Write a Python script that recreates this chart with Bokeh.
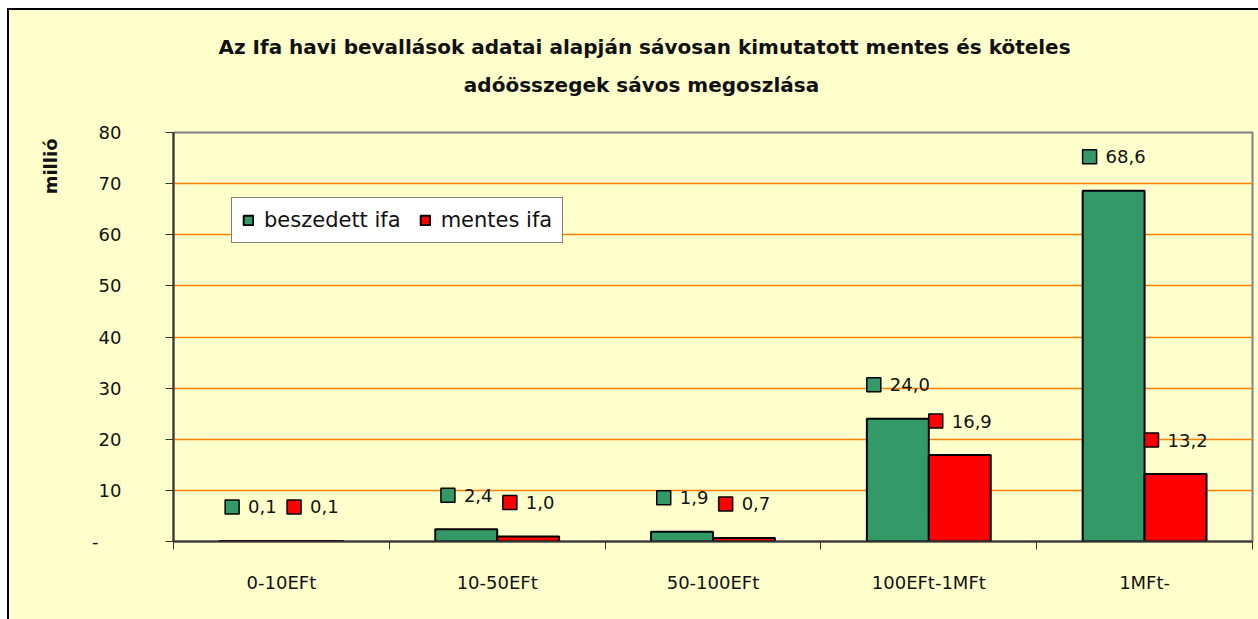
from bokeh.plotting import figure
from bokeh.layouts import column
from bokeh.models import (FixedTicker, Legend, LegendItem, Title, ColumnDataSource, Range1d)
from bokeh.core.properties import value
from bokeh.embed import file_html
from bokeh.resources import INLINE

categories = ["0-10EFt", "10-50EFt", "50-100EFt", "100EFt-1MFt", "1MFt-"]
beszedett = [0.1, 2.4, 1.9, 24.0, 68.6]
mentes = [0.1, 1.0, 0.7, 16.9, 13.2]
y_ticks = [0, 10, 20, 30, 40, 50, 60, 70, 80]
series_names = ["beszedett ifa", "mentes ifa"]
title_lines = ["Az Ifa havi bevallások adatai alapján sávosan kimutatott mentes és köteles",
               "adóösszegek sávos megoszlása"]
y_label = "millió"

FONT = "DejaVu Sans"
GREEN = "#339966"
RED = "#FF0000"
BG = "#FFFFCC"

W, H_TOTAL = 1249, 609
HT = 100                      # height of the title strip
H = H_TOTAL - HT
ML, MR, MT, MB = 164, 6, 122 - HT, 78
FW, FH = W - ML - MR, H - MT - MB
n = len(categories)
ymax = 80
px_x = FW / n
px_y = FH / ymax
bw = 0.287

# ---- title strip: its frame is aligned with the chart frame by the column layout,
# so its x range is expressed in canvas pixels of the chart frame ----
tp = figure(width=W, height=HT, output_backend="svg", toolbar_location=None,
            x_range=Range1d(ML, W - MR), y_range=Range1d(HT, 0),
            x_axis_type=None, y_axis_type=None,
            min_border=0, min_border_left=0, min_border_right=0, min_border_top=0, min_border_bottom=0,
            background_fill_color=BG, border_fill_color=BG)
tp.outline_line_color = None
tp.grid.visible = False
title_src = ColumnDataSource(dict(x=[635, 632], y=[36, 74], t=title_lines))
tp.text(x="x", y="y", text="t", source=title_src, text_font=value(FONT), text_font_size="20px",
        text_font_style="bold", text_color="#111111", text_align="center", text_baseline="middle")

# ---- main chart ----
p = figure(width=W, height=H, output_backend="svg", toolbar_location=None,
           x_range=Range1d(0, n), y_range=Range1d(0, ymax),
           min_border_left=ML, min_border_right=MR, min_border_top=MT, min_border_bottom=MB,
           background_fill_color=BG, border_fill_color=BG)
p.outline_line_color = "#808080"
p.outline_line_width = 2

centers = [i + 0.5 for i in range(n)]
gx = [c - bw / 2 for c in centers]
rx = [c + bw / 2 for c in centers]

g = p.vbar(x=gx, top=beszedett, width=bw, bottom=0, fill_color=GREEN, line_color="black", line_width=2)
r = p.vbar(x=rx, top=mentes, width=bw, bottom=0, fill_color=RED, line_color="black", line_width=2)

def fmt(v):
    return f"{v:.1f}".replace(".", ",")

LBL = 18
for xs, vals, col in [(gx, beszedett, GREEN), (rx, mentes, RED)]:
    texts = [fmt(v) for v in vals]
    widths = [sum(0.318 * LBL if ch == "," else 0.636 * LBL for ch in t) for t in texts]
    starts = [-(22 + w) / 2 for w in widths]
    sq_x = [x + (s + 7) / px_x for x, s in zip(xs, starts)]
    sq_y = [v + 34 / px_y for v in vals]
    p.scatter(x=sq_x, y=sq_y, marker="square", size=14, fill_color=col, line_color="black", line_width=1.5)
    src = ColumnDataSource(dict(x=xs, y=vals, t=texts, off=[s + 23 for s in starts]))
    p.text(x="x", y="y", text="t", x_offset="off", y_offset=-34, source=src,
           text_font=value(FONT), text_font_size=f"{LBL}px", text_color="#111111",
           text_align="left", text_baseline="middle")

p.xgrid.grid_line_color = None
p.ygrid.grid_line_color = "#FF8000"
p.ygrid.grid_line_width = 1.5
p.ygrid.ticker = FixedTicker(ticks=y_ticks[1:-1])

xa = p.xaxis[0]
xa.ticker = FixedTicker(ticks=centers, minor_ticks=list(range(n + 1)))
xa.major_label_overrides = {c: lab for c, lab in zip(centers, categories)}
xa.major_tick_line_color = None
xa.major_tick_out = 0
xa.minor_tick_out = 8
xa.minor_tick_in = 0
xa.minor_tick_line_color = "#333333"
xa.axis_line_color = "#333333"
xa.axis_line_width = 2
xa.major_label_standoff = 22
xa.major_label_text_font = FONT
xa.major_label_text_font_size = "18px"
xa.major_label_text_color = "#111111"

ya = p.yaxis[0]
ya.ticker = FixedTicker(ticks=y_ticks)
ya.major_label_overrides = {0: "-\u00a0\u00a0\u00a0\u00a0"}
ya.major_tick_out = 8
ya.major_tick_in = 0
ya.minor_tick_line_color = None
ya.major_tick_line_color = "#333333"
ya.axis_line_color = "#333333"
ya.axis_line_width = 2
ya.major_label_standoff = 44
ya.major_label_text_font = FONT
ya.major_label_text_font_size = "18px"
ya.major_label_text_color = "#111111"

legend = Legend(items=[LegendItem(label=series_names[0], renderers=[g]),
                       LegendItem(label=series_names[1], renderers=[r])],
                orientation="horizontal", location=(58, 298))
legend.background_fill_color = "white"
legend.background_fill_alpha = 1
legend.border_line_color = "black"
legend.border_line_width = 1
legend.label_text_font = FONT
legend.label_text_font_size = "21px"
legend.label_text_color = "#111111"
legend.glyph_width = 12
legend.glyph_height = 12
legend.spacing = 18
legend.padding = 10
legend.margin = 0
legend.label_standoff = 10
p.add_layout(legend, "center")

yt = Title(text=y_label, align="right", offset=6, text_font=FONT, text_font_size="18px",
           text_font_style="bold", text_color="#111111", standoff=57)
p.add_layout(yt, "left")

lay = column(tp, p, spacing=0)
lay.styles = {"border-left": "2px solid black", "border-top": "2px solid black",
              "margin-left": "7px", "margin-top": "8px", "background-color": BG}

open("out.html", "w").write(file_html(lay, INLINE))
